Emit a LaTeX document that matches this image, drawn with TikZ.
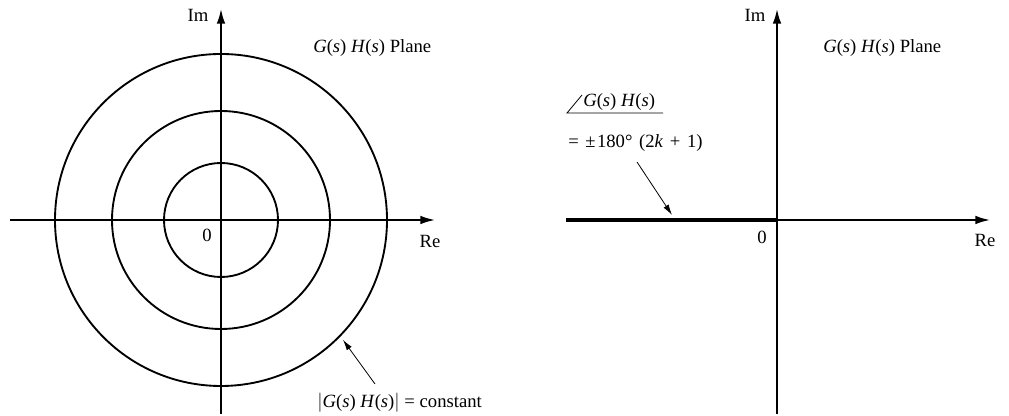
\documentclass[tikz,border=0pt]{standalone}
\usepackage{fontspec}
\setmainfont{Liberation Serif}
\usetikzlibrary{arrows.meta}

\newcommand{\GHs}{\textit{G}(\textit{s})\ \textit{H}(\textit{s})}

\tikzset{
  axis/.style={line width=1.4pt, -{Latex[length=11pt,width=6.5pt]}},
  contour/.style={line width=1.4pt},
  leader/.style={line width=0.6pt, -{Latex[length=8pt,width=4.5pt]}},
  lbl/.style={inner sep=0pt, font=\fontsize{14}{16}\selectfont}
}

\begin{document}
\begin{tikzpicture}[x=0.75pt, y=0.75pt]
    \useasboundingbox (0,0) rectangle (1009,416);

    % left plane: constant magnitude loci
    \begin{scope}[shift={(221,196)}]
        \draw[axis] (-211,0) -- (214,0);
        \draw[axis] (0,-194) -- (0,211);

        \draw[contour] (0,0) circle (57);
        \draw[contour] (0,0) circle (109);
        \draw[contour] (0,0) circle (166);

        \node[lbl] (imL) at (-23,205) {Im};
        \node[lbl] (reL) at (209,-21) {Re};
        \node[lbl] (zeroL) at (-14,-15) {0};
        \node[lbl, anchor=west] (planeL) at (92,172) {\GHs{} Plane};

        \node[lbl, anchor=west] (magL) at (96,-183) {$|$\GHs$|$ = constant};
        \coordinate (magTail) at (154,-164);
        \coordinate (magTip) at (-44.5:171);
        \draw[leader] (magTail) -- (magTip);
    \end{scope}

    % right plane: constant phase locus
    \begin{scope}[shift={(777,196)}]
        \draw[axis] (-211,0) -- (213,0);
        \draw[axis] (0,-194) -- (0,211);

        \coordinate (origR) at (0,0);
        \coordinate (negEnd) at (-211,0);
        \draw[line width=3pt] (negEnd) -- (origR);

        \node[lbl] (imR) at (-22,205) {Im};
        \node[lbl] (reR) at (208,-20) {Re};
        \node[lbl] (zeroR) at (-15,-17) {0};
        \node[lbl, anchor=west] (planeR) at (46,172) {\GHs{} Plane};

        \node[lbl, anchor=west] (angR) at (-194,118) {\GHs};
        \draw[line width=0.6pt] (-195,125) -- (-210,107) -- (-114,107);
        \node[lbl, anchor=west] (phaseR) at (-209,77)
            {=\hspace{5pt}±\hspace{1pt}180°\hspace{5pt}(2\textit{k}\hspace{5pt}+\hspace{5pt}1)};

        \coordinate (phaseTail) at (-140,58);
        \coordinate (phaseTip) at (-105,5);
        \draw[leader] (phaseTail) -- (phaseTip);
    \end{scope}
\end{tikzpicture}
\end{document}
